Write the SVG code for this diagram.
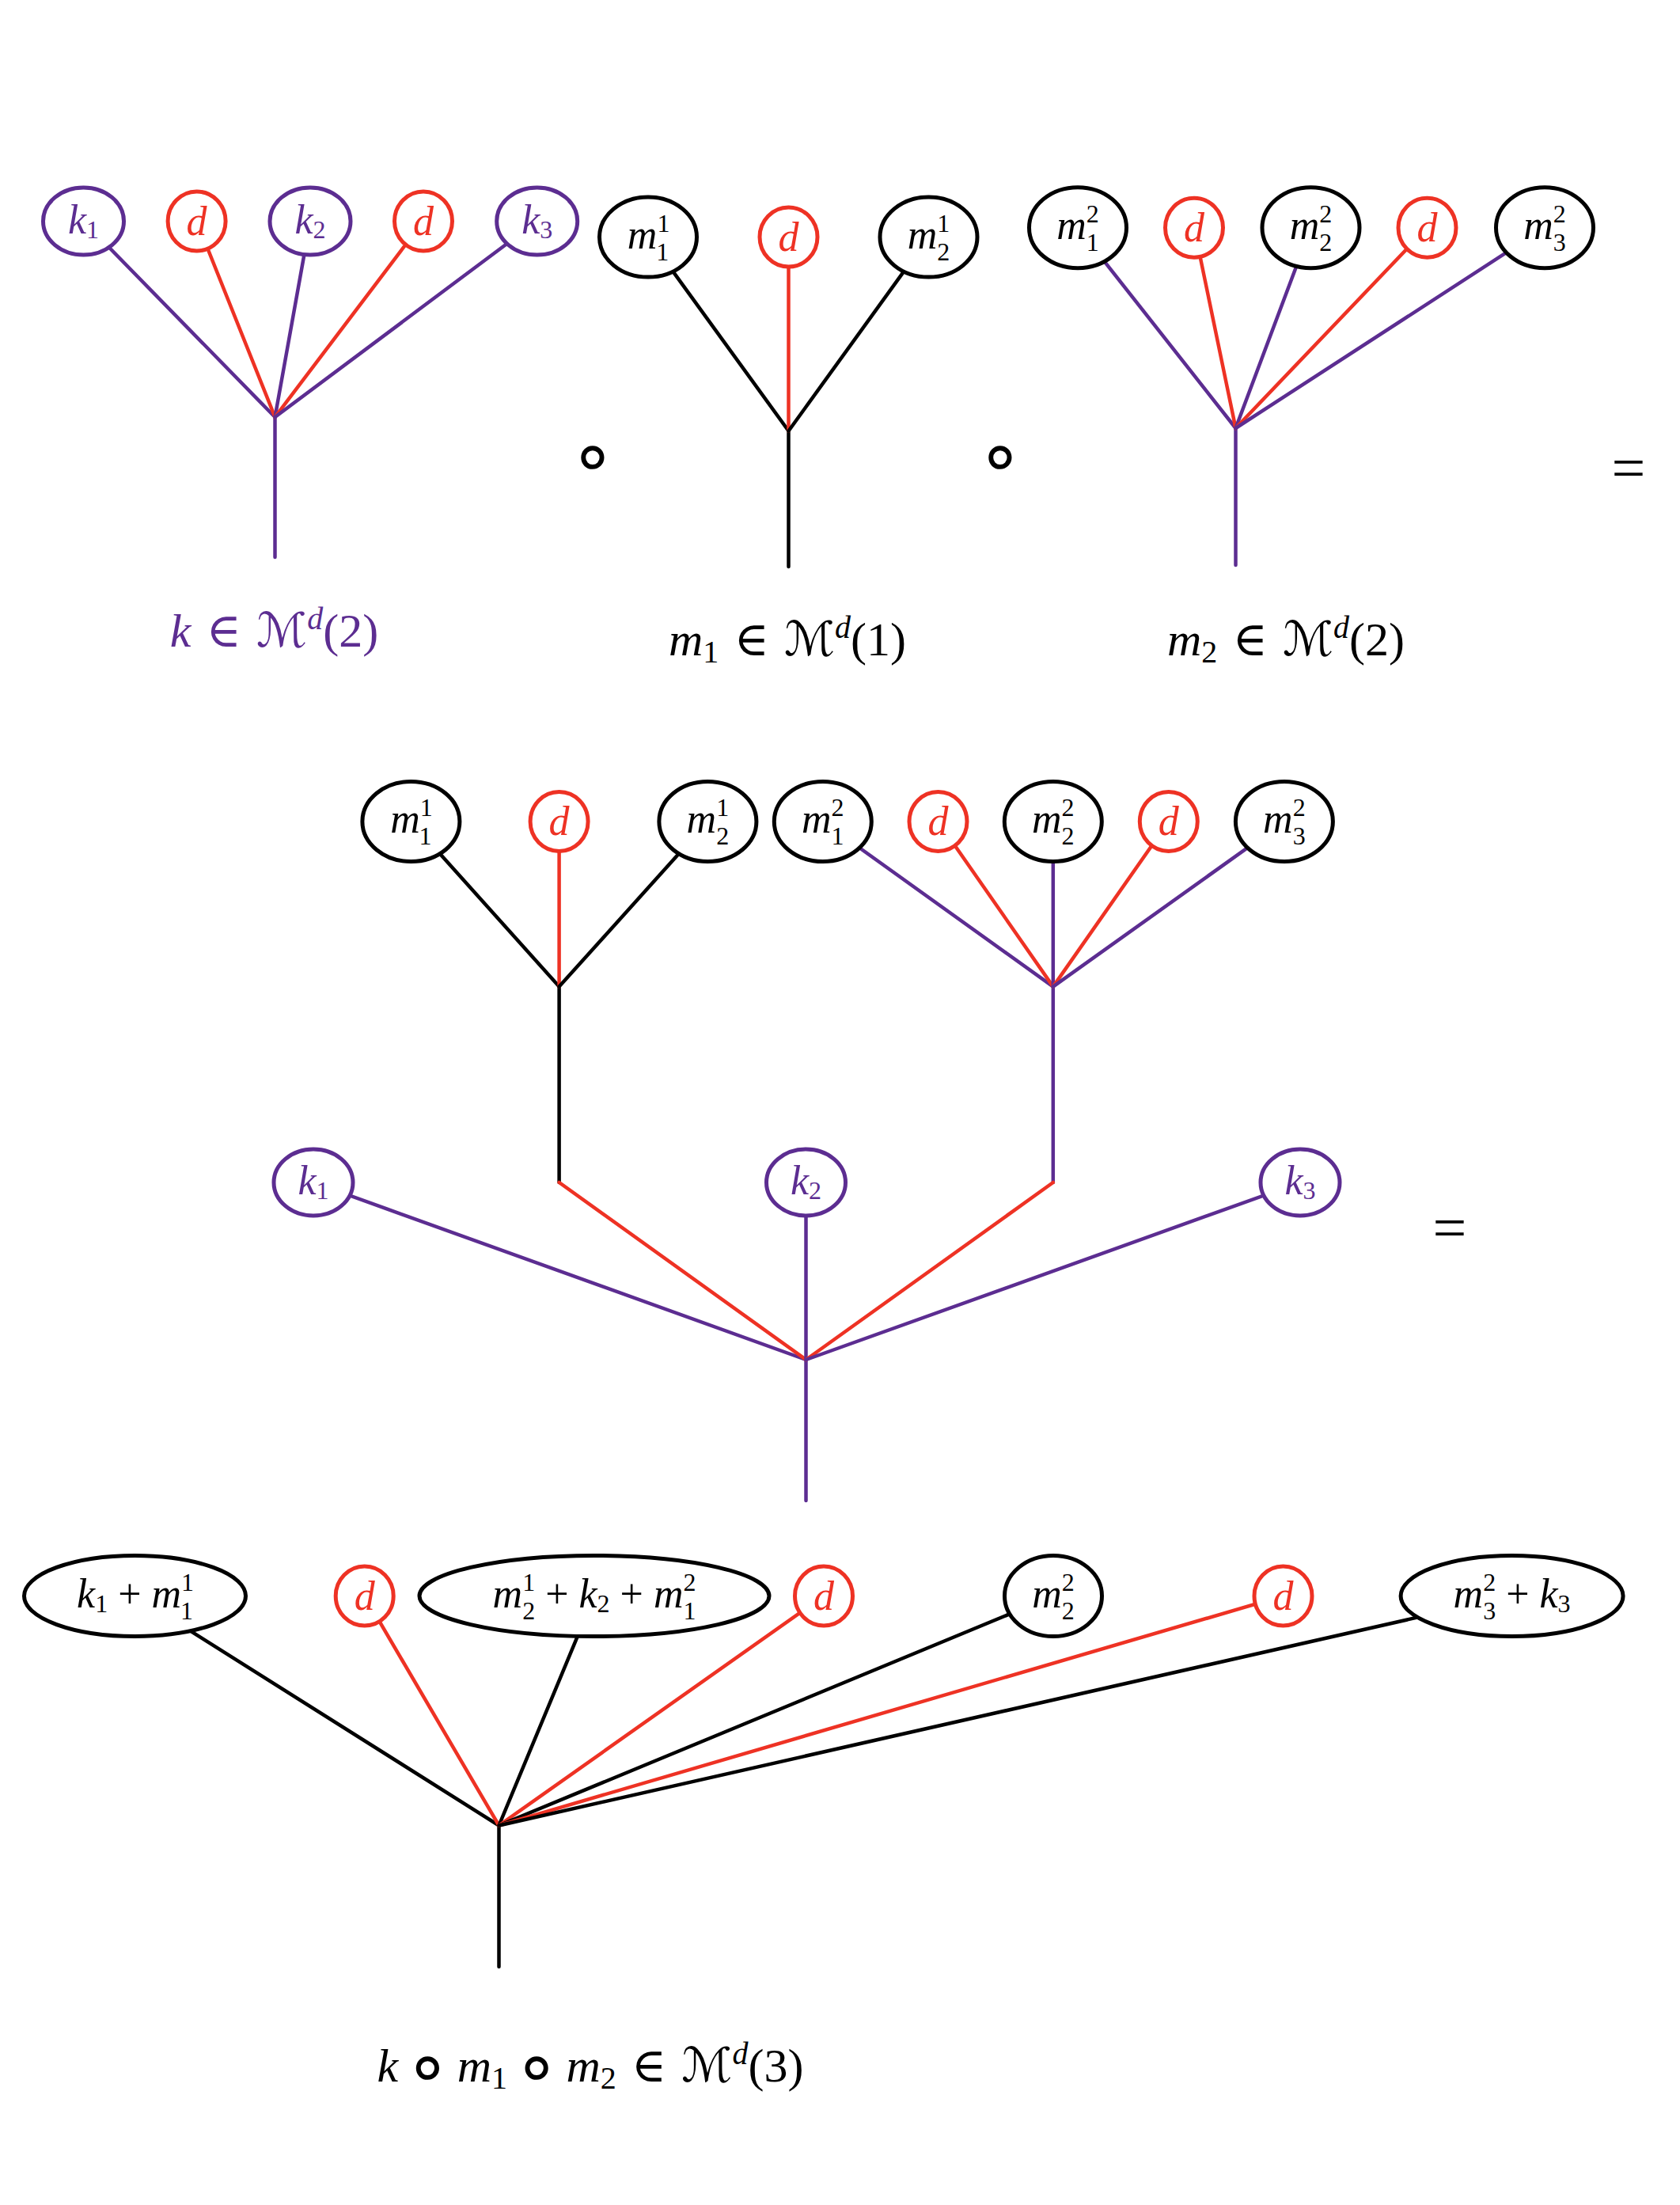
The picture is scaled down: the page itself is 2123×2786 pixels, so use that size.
<svg xmlns="http://www.w3.org/2000/svg" width="2123" height="2786" viewBox="0 0 2123 2786">
<style>
.p{stroke:#5c2d91}
.r{stroke:#ee3224}
.k{stroke:#000}
line{stroke-width:4.5;stroke-linecap:round}
ellipse{fill:#fff;stroke-width:5}
text{font-family:"Liberation Serif","DejaVu Serif",serif;text-anchor:middle}
.n{font-size:52px}
.big{font-size:60px}
.i{font-style:italic}
.s{font-size:32px}
.sp{font-size:30px}
.sym{font-family:"DejaVu Serif","DejaVu Sans",serif}
.ring{font-family:"DejaVu Sans ExtraLight","DejaVu Sans","DejaVu Serif",sans-serif;font-size:95px}
.fp{fill:#5c2d91}
.fr{fill:#ee3224}
.fk{fill:#000}
</style>
<rect width="2123" height="2786" fill="#fff"/>
<g id="connectors">
<line class="p" x1="347.5" y1="527" x2="347.5" y2="704"/>
<line class="p" x1="347.5" y1="527" x2="105.5" y2="279.5"/>
<line class="r" x1="347.5" y1="527" x2="248.6" y2="279.5"/>
<line class="p" x1="347.5" y1="527" x2="392" y2="279.5"/>
<line class="r" x1="347.5" y1="527" x2="535" y2="279.5"/>
<line class="p" x1="347.5" y1="527" x2="678.7" y2="279.5"/>
<line class="k" x1="996.5" y1="544.5" x2="996.5" y2="716"/>
<line class="k" x1="996.5" y1="544.5" x2="819" y2="299.6"/>
<line class="r" x1="996.5" y1="544.5" x2="996.5" y2="299.6"/>
<line class="k" x1="996.5" y1="544.5" x2="1173.5" y2="299.6"/>
<line class="p" x1="1561.5" y1="541" x2="1561.5" y2="714"/>
<line class="p" x1="1561.5" y1="541" x2="1362" y2="287.7"/>
<line class="r" x1="1561.5" y1="541" x2="1509" y2="287.7"/>
<line class="p" x1="1561.5" y1="541" x2="1656.5" y2="287.7"/>
<line class="r" x1="1561.5" y1="541" x2="1803.5" y2="287.7"/>
<line class="p" x1="1561.5" y1="541" x2="1952" y2="287.7"/>
<line class="k" x1="706.6" y1="1246.6" x2="706.6" y2="1494"/>
<line class="k" x1="706.6" y1="1246.6" x2="519.4" y2="1038"/>
<line class="r" x1="706.6" y1="1246.6" x2="706.6" y2="1038"/>
<line class="k" x1="706.6" y1="1246.6" x2="894.4" y2="1038"/>
<line class="p" x1="1330.8" y1="1246.6" x2="1330.8" y2="1494"/>
<line class="p" x1="1330.8" y1="1246.6" x2="1039.8" y2="1038"/>
<line class="r" x1="1330.8" y1="1246.6" x2="1185.5" y2="1038"/>
<line class="p" x1="1330.8" y1="1246.6" x2="1330.8" y2="1038"/>
<line class="r" x1="1330.8" y1="1246.6" x2="1476.8" y2="1038"/>
<line class="p" x1="1330.8" y1="1246.6" x2="1622.9" y2="1038"/>
<line class="p" x1="1018.5" y1="1718" x2="1018.5" y2="1896"/>
<line class="p" x1="1018.5" y1="1718" x2="396" y2="1494"/>
<line class="r" x1="1018.5" y1="1718" x2="706.6" y2="1494"/>
<line class="p" x1="1018.5" y1="1718" x2="1018.5" y2="1494"/>
<line class="r" x1="1018.5" y1="1718" x2="1330.8" y2="1494"/>
<line class="p" x1="1018.5" y1="1718" x2="1643" y2="1494"/>
<line class="k" x1="630.5" y1="2306.5" x2="630.5" y2="2485"/>
<line class="k" x1="630.5" y1="2306.5" x2="170.5" y2="2016.5"/>
<line class="r" x1="630.5" y1="2306.5" x2="460.7" y2="2016.5"/>
<line class="k" x1="630.5" y1="2306.5" x2="751" y2="2016.5"/>
<line class="r" x1="630.5" y1="2306.5" x2="1041" y2="2016.5"/>
<line class="k" x1="630.5" y1="2306.5" x2="1331" y2="2016.5"/>
<line class="r" x1="630.5" y1="2306.5" x2="1621.5" y2="2016.5"/>
<line class="k" x1="630.5" y1="2306.5" x2="1910.6" y2="2016.5"/>
</g>

<g id="top-k1"><ellipse class="p" cx="105.5" cy="279.5" rx="51" ry="42.5"/><text class="n fp" x="105.5" y="294.5"><tspan class="i">k</tspan><tspan class="s" dy="6">1</tspan></text></g>
<g id="top-kd1"><ellipse class="r" cx="248.6" cy="279.5" rx="36.5" ry="37.5"/><text class="n fr i" x="248.6" y="296.5">d</text></g>
<g id="top-k2"><ellipse class="p" cx="392" cy="279.5" rx="51" ry="42.5"/><text class="n fp" x="392" y="294.5"><tspan class="i">k</tspan><tspan class="s" dy="6">2</tspan></text></g>
<g id="top-kd2"><ellipse class="r" cx="535" cy="279.5" rx="36.5" ry="37.5"/><text class="n fr i" x="535" y="296.5">d</text></g>
<g id="top-k3"><ellipse class="p" cx="678.7" cy="279.5" rx="51" ry="42.5"/><text class="n fp" x="678.7" y="294.5"><tspan class="i">k</tspan><tspan class="s" dy="6">3</tspan></text></g>

<g id="top-m11"><ellipse class="k" cx="819" cy="299.6" rx="61.5" ry="50.5"/><text class="n fk" x="819" y="313.6"><tspan class="i">m</tspan><tspan class="s" dy="-21">1</tspan><tspan class="s" dx="-16" dy="36">1</tspan></text></g>
<g id="top-m1d"><ellipse class="r" cx="996.5" cy="299.6" rx="36.5" ry="37.5"/><text class="n fr i" x="996.5" y="316.5">d</text></g>
<g id="top-m21"><ellipse class="k" cx="1173.5" cy="299.6" rx="61.5" ry="50.5"/><text class="n fk" x="1173.5" y="313.6"><tspan class="i">m</tspan><tspan class="s" dy="-21">1</tspan><tspan class="s" dx="-16" dy="36">2</tspan></text></g>

<g id="top-m12"><ellipse class="k" cx="1362" cy="287.7" rx="61.5" ry="51"/><text class="n fk" x="1362" y="301.7"><tspan class="i">m</tspan><tspan class="s" dy="-21">2</tspan><tspan class="s" dx="-16" dy="36">1</tspan></text></g>
<g id="top-m2d1"><ellipse class="r" cx="1509" cy="287.7" rx="36.5" ry="37.5"/><text class="n fr i" x="1509" y="304.5">d</text></g>
<g id="top-m22"><ellipse class="k" cx="1656.5" cy="287.7" rx="61.5" ry="51"/><text class="n fk" x="1656.5" y="301.7"><tspan class="i">m</tspan><tspan class="s" dy="-21">2</tspan><tspan class="s" dx="-16" dy="36">2</tspan></text></g>
<g id="top-m2d2"><ellipse class="r" cx="1803.5" cy="287.7" rx="36.5" ry="37.5"/><text class="n fr i" x="1803.5" y="304.5">d</text></g>
<g id="top-m32"><ellipse class="k" cx="1952" cy="287.7" rx="61.5" ry="51"/><text class="n fk" x="1952" y="301.7"><tspan class="i">m</tspan><tspan class="s" dy="-21">2</tspan><tspan class="s" dx="-16" dy="36">3</tspan></text></g>

<g id="op-circ1"><text class="ring fk" x="749" y="608" font-size="120">∘</text></g>
<g id="op-circ2"><text class="ring fk" x="1264" y="608" font-size="120">∘</text></g>
<g id="op-eq1"><text class="fk" x="2058" y="617" font-size="76">=</text></g>

<g id="label-k"><text class="big fp" x="346.5" y="817"><tspan class="i">k</tspan><tspan class="sym"> ∈ ℳ</tspan><tspan class="i" font-size="40" dy="-22">d</tspan><tspan dy="22">(2)</tspan></text></g>
<g id="label-m1"><text class="big fk" x="995" y="828"><tspan class="i">m</tspan><tspan font-size="40" dy="9">1</tspan><tspan class="sym" dy="-9"> ∈ ℳ</tspan><tspan class="i" font-size="40" dy="-22">d</tspan><tspan dy="22">(1)</tspan></text></g>
<g id="label-m2"><text class="big fk" x="1625" y="828"><tspan class="i">m</tspan><tspan font-size="40" dy="9">2</tspan><tspan class="sym" dy="-9"> ∈ ℳ</tspan><tspan class="i" font-size="40" dy="-22">d</tspan><tspan dy="22">(2)</tspan></text></g>

<g id="mid-m11"><ellipse class="k" cx="519.4" cy="1038" rx="61.5" ry="50.5"/><text class="n fk" x="519.4" y="1052"><tspan class="i">m</tspan><tspan class="s" dy="-21">1</tspan><tspan class="s" dx="-16" dy="36">1</tspan></text></g>
<g id="mid-m1d"><ellipse class="r" cx="706.6" cy="1038" rx="36.5" ry="37.5"/><text class="n fr i" x="706.6" y="1055">d</text></g>
<g id="mid-m21"><ellipse class="k" cx="894.4" cy="1038" rx="61.5" ry="50.5"/><text class="n fk" x="894.4" y="1052"><tspan class="i">m</tspan><tspan class="s" dy="-21">1</tspan><tspan class="s" dx="-16" dy="36">2</tspan></text></g>
<g id="mid-m12"><ellipse class="k" cx="1039.8" cy="1038" rx="61.5" ry="50.5"/><text class="n fk" x="1039.8" y="1052"><tspan class="i">m</tspan><tspan class="s" dy="-21">2</tspan><tspan class="s" dx="-16" dy="36">1</tspan></text></g>
<g id="mid-m2d1"><ellipse class="r" cx="1185.5" cy="1038" rx="36.5" ry="37.5"/><text class="n fr i" x="1185.5" y="1055">d</text></g>
<g id="mid-m22"><ellipse class="k" cx="1330.8" cy="1038" rx="61.5" ry="50.5"/><text class="n fk" x="1330.8" y="1052"><tspan class="i">m</tspan><tspan class="s" dy="-21">2</tspan><tspan class="s" dx="-16" dy="36">2</tspan></text></g>
<g id="mid-m2d2"><ellipse class="r" cx="1476.8" cy="1038" rx="36.5" ry="37.5"/><text class="n fr i" x="1476.8" y="1055">d</text></g>
<g id="mid-m32"><ellipse class="k" cx="1622.9" cy="1038" rx="61.5" ry="50.5"/><text class="n fk" x="1622.9" y="1052"><tspan class="i">m</tspan><tspan class="s" dy="-21">2</tspan><tspan class="s" dx="-16" dy="36">3</tspan></text></g>
<g id="mid-k1"><ellipse class="p" cx="396" cy="1494" rx="50" ry="42"/><text class="n fp" x="396" y="1509"><tspan class="i">k</tspan><tspan class="s" dy="6">1</tspan></text></g>
<g id="mid-k2"><ellipse class="p" cx="1018.5" cy="1494" rx="50" ry="42"/><text class="n fp" x="1018.5" y="1509"><tspan class="i">k</tspan><tspan class="s" dy="6">2</tspan></text></g>
<g id="mid-k3"><ellipse class="p" cx="1643" cy="1494" rx="50" ry="42"/><text class="n fp" x="1643" y="1509"><tspan class="i">k</tspan><tspan class="s" dy="6">3</tspan></text></g>
<g id="op-eq2"><text class="fk" x="1832" y="1577" font-size="76">=</text></g>

<g id="bot-n1"><ellipse class="k" cx="170.5" cy="2016.5" rx="140" ry="51"/><text class="n fk" x="170.5" y="2030.5"><tspan class="i">k</tspan><tspan class="s" dy="6">1</tspan><tspan dy="-6"> + </tspan><tspan class="i">m</tspan><tspan class="s" dy="-21">1</tspan><tspan class="s" dx="-16" dy="36">1</tspan></text></g>
<g id="bot-d1"><ellipse class="r" cx="460.7" cy="2016.5" rx="36.5" ry="37.5"/><text class="n fr i" x="460.7" y="2033.5">d</text></g>
<g id="bot-n3"><ellipse class="k" cx="751" cy="2016.5" rx="221" ry="51"/><text class="n fk" x="751" y="2030.5"><tspan class="i">m</tspan><tspan class="s" dy="-21">1</tspan><tspan class="s" dx="-16" dy="36">2</tspan><tspan dy="-15"> + </tspan><tspan class="i">k</tspan><tspan class="s" dy="6">2</tspan><tspan dy="-6"> + </tspan><tspan class="i">m</tspan><tspan class="s" dy="-21">2</tspan><tspan class="s" dx="-16" dy="36">1</tspan></text></g>
<g id="bot-d2"><ellipse class="r" cx="1041" cy="2016.5" rx="36.5" ry="37.5"/><text class="n fr i" x="1041" y="2033.5">d</text></g>
<g id="bot-m22"><ellipse class="k" cx="1331" cy="2016.5" rx="61.5" ry="51"/><text class="n fk" x="1331" y="2030.5"><tspan class="i">m</tspan><tspan class="s" dy="-21">2</tspan><tspan class="s" dx="-16" dy="36">2</tspan></text></g>
<g id="bot-d3"><ellipse class="r" cx="1621.5" cy="2016.5" rx="36.5" ry="37.5"/><text class="n fr i" x="1621.5" y="2033.5">d</text></g>
<g id="bot-n7"><ellipse class="k" cx="1910.6" cy="2016.5" rx="140.5" ry="51"/><text class="n fk" x="1910.6" y="2030.5"><tspan class="i">m</tspan><tspan class="s" dy="-21">2</tspan><tspan class="s" dx="-16" dy="36">3</tspan><tspan dy="-15"> + </tspan><tspan class="i">k</tspan><tspan class="s" dy="6">3</tspan></text></g>

<g id="label-result"><text class="big fk" x="746" y="2630"><tspan class="i">k</tspan><tspan class="sp"> </tspan><tspan class="ring" dy="13">∘</tspan><tspan class="sp" dy="-13"> </tspan><tspan class="i">m</tspan><tspan font-size="40" dy="9">1</tspan><tspan class="sp" dy="-9"> </tspan><tspan class="ring" dy="13">∘</tspan><tspan class="sp" dy="-13"> </tspan><tspan class="i">m</tspan><tspan font-size="40" dy="9">2</tspan><tspan class="sym" dy="-9"> ∈ ℳ</tspan><tspan class="i" font-size="40" dy="-22">d</tspan><tspan dy="22">(3)</tspan></text></g>
</svg>
